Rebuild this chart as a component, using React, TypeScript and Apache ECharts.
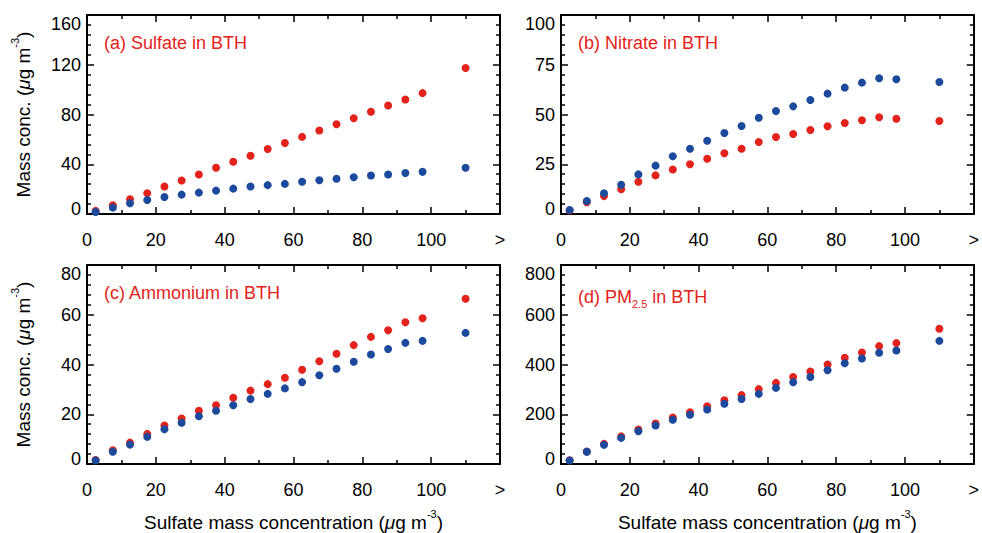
import React, { useEffect, useRef } from "react";
import * as echarts from "echarts";

// Sulfate bins (µg m-3); the last bin collects everything above 100
const binCenters = [2.5, 7.5, 12.5, 17.5, 22.5, 27.5, 32.5, 37.5, 42.5, 47.5, 52.5, 57.5, 62.5, 67.5, 72.5, 77.5, 82.5, 87.5, 92.5, 97.5, 110];

const sulfateRed = [2.5, 7.0, 11.9, 16.7, 22.1, 26.9, 31.8, 37.2, 42.0, 46.9, 52.3, 57.1, 62.0, 67.1, 72.2, 77.0, 82.2, 87.3, 92.1, 97.2, 117.4];
const sulfateBlue = [1.6, 5.1, 8.6, 11.3, 13.7, 15.6, 17.2, 18.8, 20.4, 22.1, 23.2, 24.2, 25.9, 27.2, 28.3, 29.6, 31.0, 31.8, 32.9, 33.9, 37.2];

const nitrateRed = [1.8, 5.9, 9.0, 12.4, 16.2, 19.4, 22.4, 25.0, 27.8, 30.5, 32.8, 36.2, 38.7, 40.2, 42.2, 44.1, 45.7, 47.1, 48.6, 47.9, 46.7];
const nitrateBlue = [2.0, 6.5, 10.4, 14.7, 19.9, 24.3, 29.0, 32.8, 36.8, 40.7, 44.2, 48.4, 51.8, 54.1, 57.3, 60.5, 63.5, 66.0, 68.2, 67.7, 66.3];

const ammoniumRed = [1.6, 5.5, 8.6, 12.1, 15.5, 18.3, 21.4, 23.6, 26.6, 29.5, 32.1, 34.7, 37.9, 41.3, 44.3, 47.8, 51.1, 53.8, 57.0, 58.6, 66.4];
const ammoniumBlue = [1.4, 4.9, 7.8, 10.9, 14.0, 16.6, 19.2, 21.4, 23.6, 26.1, 28.2, 30.4, 32.9, 35.7, 38.3, 41.1, 44.0, 46.2, 48.7, 49.5, 52.7];

const pm25Red = [15, 50, 81, 111, 139, 163, 187, 208, 232, 256, 277, 301, 326, 350, 372, 400, 427, 448, 474, 486, 544];
const pm25Blue = [14, 49, 77, 105, 132, 155, 178, 198, 219, 242, 261, 282, 306, 329, 350, 377, 405, 424, 447, 456, 495];

// x tick labels: the last tick stands for "above 100"
const xTicks = [0, 20, 40, 60, 80, 100, 120];
const xTickLabels = ["0", "20", "40", "60", "80", "100", ">"];

const panelTitles = ["(a) Sulfate in BTH", "(b) Nitrate in BTH", "(c) Ammonium in BTH", "(d) PM{sub|2.5} in BTH"];
const yMax = [160, 100, 80, 800];
const yStep = [40, 25, 20, 200];

const RED = "#e3231b";
const BLUE = "#1b4a9c";
const FONT = "'Liberation Sans', Arial, Helvetica, sans-serif";

const panels = [
  { left: 87, top: 15, red: sulfateRed, blue: sulfateBlue },
  { left: 561, top: 15, red: nitrateRed, blue: nitrateBlue },
  { left: 87, top: 265, red: ammoniumRed, blue: ammoniumBlue },
  { left: 561, top: 265, red: pm25Red, blue: pm25Blue },
];
const PW = 413;
const PH = 199;

const pairs = (ys: number[]) => binCenters.map((x, i) => [x, ys[i]]);

const tickStyle = { color: "#000", width: 1.5 };
const unitRich = {
  mu: { fontStyle: "italic", fontSize: 19, fontFamily: FONT, color: "#000" },
  sup: { fontSize: 11, fontFamily: FONT, color: "#000", padding: [0, 0, 18, 0] },
};

export default function App() {
  const ref = useRef<HTMLDivElement>(null);

  useEffect(() => {
    if (!ref.current) return;
    const chart = echarts.init(ref.current, undefined, { renderer: "svg" });

    const grid: any[] = [];
    const xAxis: any[] = [];
    const yAxis: any[] = [];
    const series: any[] = [];
    const title: any[] = [];

    panels.forEach((p, i) => {
      grid.push({ left: p.left, top: p.top, width: PW, height: PH, containLabel: false });
      const bottomRow = i >= 2;
      const leftCol = i % 2 === 0;
      const max = yMax[i];

      const xBase = {
        type: "value",
        gridIndex: i,
        min: 0,
        max: 120,
        interval: 20,
        splitLine: { show: false },
        axisLine: { show: true, onZero: false, lineStyle: { color: "#000", width: 2 } },
        axisTick: { show: true, inside: true, length: 7, lineStyle: tickStyle },
        minorTick: { show: true, splitNumber: 2, length: 4, lineStyle: tickStyle },
      };
      xAxis.push({
        ...xBase,
        position: "bottom",
        axisLabel: {
          show: true,
          margin: 17,
          fontSize: 18,
          fontFamily: FONT,
          color: "#000",
          formatter: (v: number) => {
            const k = xTicks.indexOf(v);
            return k >= 0 ? xTickLabels[k] : "";
          },
        },
        name: bottomRow ? "Sulfate mass concentration ({mu|μ}g m{sup|-3})" : "",
        nameLocation: "middle",
        nameGap: 44,
        nameTextStyle: { fontSize: 19, fontFamily: FONT, color: "#000", rich: unitRich },
      });
      xAxis.push({ ...xBase, position: "top", axisLabel: { show: false } });

      const yBase = {
        type: "value",
        gridIndex: i,
        min: 0,
        max,
        interval: yStep[i],
        splitLine: { show: false },
        axisLine: { show: true, onZero: false, lineStyle: { color: "#000", width: 2 } },
        axisTick: { show: true, inside: true, length: 7, lineStyle: tickStyle },
        minorTick: { show: true, splitNumber: 5, length: 4, lineStyle: tickStyle },
      };
      const labelRich = {
        lo: { fontSize: 18, fontFamily: FONT, color: "#000", padding: [0, 0, 10, 0] },
        hi: { fontSize: 18, fontFamily: FONT, color: "#000", padding: [18, 0, 0, 0] },
      };
      yAxis.push({
        ...yBase,
        position: "left",
        axisLabel: {
          show: true,
          margin: 6,
          fontSize: 18,
          fontFamily: FONT,
          color: "#000",
          rich: labelRich,
          formatter: (v: number) => (v === 0 ? "{lo|0}" : v === max ? `{hi|${v}}` : String(v)),
        },
        name: leftCol ? "Mass conc. ({mu|μ}g m{sup|-3})" : "",
        nameLocation: "middle",
        nameGap: 49,
        nameTextStyle: { fontSize: 19, fontFamily: FONT, color: "#000", rich: unitRich },
      });
      yAxis.push({ ...yBase, position: "right", axisLabel: { show: false } });

      const common = {
        type: "scatter",
        xAxisIndex: 2 * i,
        yAxisIndex: 2 * i,
        symbol: "circle",
        symbolSize: 8,
        silent: true,
      };
      series.push({ ...common, itemStyle: { color: RED, opacity: 1 }, data: pairs(p.red) });
      series.push({ ...common, itemStyle: { color: BLUE, opacity: 1 }, data: pairs(p.blue) });

      title.push({
        text: panelTitles[i],
        left: p.left + 17,
        top: p.top + 19,
        padding: 0,
        textStyle: {
          color: RED,
          fontSize: 18,
          fontWeight: "normal",
          fontFamily: FONT,
          rich: {
            sub: { color: RED, fontSize: 11, fontFamily: FONT, padding: [14, 0, 0, 0] },
          },
        },
      });
    });

    chart.setOption({
      animation: false,
      backgroundColor: "#fff",
      title,
      grid,
      xAxis,
      yAxis,
      series,
    });

    return () => chart.dispose();
  }, []);

  return (
    <div
      ref={ref}
      style={{ position: "fixed", left: 0, top: 0, width: 982, height: 533, background: "#fff" }}
    />
  );
}
